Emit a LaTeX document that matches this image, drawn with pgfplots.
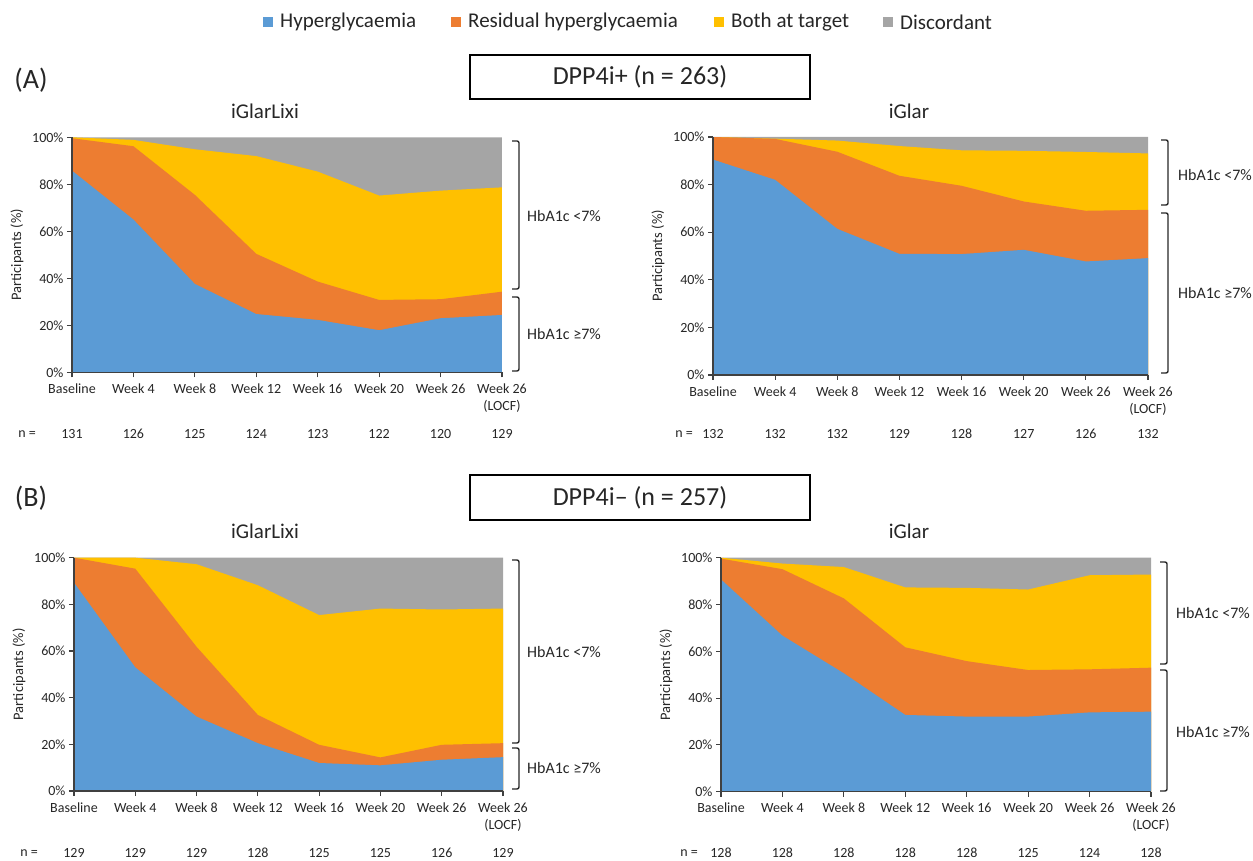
\documentclass[border=0pt]{standalone}
\usepackage{pgfplots}
\pgfplotsset{compat=1.18}
\usepackage{pgfplotstable}
\usepackage{fontspec}
\setmainfont{Carlito}
\definecolor{cblue}{HTML}{5B9BD5}
\definecolor{corange}{HTML}{ED7D31}
\definecolor{cyellow}{HTML}{FFC000}
\definecolor{cgrey}{HTML}{A5A5A5}
\definecolor{caxis}{HTML}{404040}
\definecolor{ctext}{HTML}{262626}

% cumulative tops of the stacked areas (%)
\pgfplotstableread{
x blue orng yell grey
0 85.8 99.6 100 100
1 65.0 96.2 98.9 100
2 37.6 75.5 94.9 100
3 24.8 50.4 92.0 100
4 22.3 38.6 85.4 100
5 17.9 30.8 75.2 100
6 23.0 31.1 77.3 100
7 24.4 34.3 78.7 100
}\tabAL
\pgfplotstableread{
x blue orng yell grey
0 90.5 100 100 100
1 82.0 99.2 99.3 100
2 61.4 93.8 98.5 100
3 50.9 83.7 96.2 100
4 50.8 79.5 94.4 100
5 52.6 72.9 94.2 100
6 47.7 69.0 93.7 100
7 49.1 69.4 93.1 100
}\tabAR
\pgfplotstableread{
x blue orng yell grey
0 89.3 100 100 100
1 53.0 95.3 100 100
2 31.9 61.8 97.2 100
3 20.5 32.6 88.2 100
4 12.0 19.8 75.4 100
5 11.0 14.4 78.2 100
6 13.4 19.8 77.8 100
7 14.5 20.5 78.2 100
}\tabBL
\pgfplotstableread{
x blue orng yell grey
0 90.7 99.6 100 100
1 66.7 95.1 97.5 100
2 50.6 82.6 96.0 100
3 32.8 61.7 87.3 100
4 32.1 55.8 87.1 100
5 32.1 52.0 86.4 100
6 33.9 52.3 92.5 100
7 34.2 53.0 92.8 100
}\tabBR

\newcommand\legfont{\fontsize{21}{25}\selectfont}
\newcommand\boxfont{\fontsize{26}{30}\selectfont}
\newcommand\abfont{\fontsize{28}{32}\selectfont}
\newcommand\titfont{\fontsize{21}{25}\selectfont}
\newcommand\labfont{\fontsize{14.5}{17}\selectfont}
\newcommand\brfont{\fontsize{16}{19}\selectfont}
\newcommand\tickfont{\fontsize{14}{17}\selectfont}

\pgfplotsset{
  panel/.style={
    scale only axis, xmin=0, xmax=7, ymin=0, ymax=100,
    axis x line*=bottom, axis y line*=left,
    axis line style={draw=caxis, line width=1.1pt, -},
    every tick/.style={draw=caxis, line width=1.1pt},
    major tick length=5pt, tick align=outside,
    xtick={0,...,7},
    xticklabels={Baseline, Week 4, Week 8, Week 12, Week 16, Week 20, Week 26, {Week 26\\(LOCF)}},
    ytick={0,20,40,60,80,100},
    yticklabels={0\%,20\%,40\%,60\%,80\%,100\%},
    ticklabel style={font=\tickfont, text=ctext},
    xticklabel style={align=center, yshift=-3pt},
    clip=false, axis on top,
    anchor=south west,
  },
}
\newcommand{\drawareas}[1]{%
  \addplot[draw=none, fill=cgrey] table[x=x,y=grey]{#1} \closedcycle;
  \addplot[draw=none, fill=cyellow] table[x=x,y=yell]{#1} \closedcycle;
  \addplot[draw=none, fill=corange] table[x=x,y=orng]{#1} \closedcycle;
  \addplot[draw=none, fill=cblue] table[x=x,y=blue]{#1} \closedcycle;
  \node[rotate=90, font=\labfont, text=ctext] at ([xshift=-55pt]rel axis cs:0,0.5) {Participants (\%)};
}
\newcommand{\nrow}[9]{%
  \node[font=\tickfont, text=ctext] at ([yshift=-#1]axis cs:0,0) {#2};
  \node[font=\tickfont, text=ctext] at ([yshift=-#1]axis cs:1,0) {#3};
  \node[font=\tickfont, text=ctext] at ([yshift=-#1]axis cs:2,0) {#4};
  \node[font=\tickfont, text=ctext] at ([yshift=-#1]axis cs:3,0) {#5};
  \node[font=\tickfont, text=ctext] at ([yshift=-#1]axis cs:4,0) {#6};
  \node[font=\tickfont, text=ctext] at ([yshift=-#1]axis cs:5,0) {#7};
  \node[font=\tickfont, text=ctext] at ([yshift=-#1]axis cs:6,0) {#8};
  \node[font=\tickfont, text=ctext] at ([yshift=-#1]axis cs:7,0) {#9};
}

\begin{document}
\begin{tikzpicture}
\useasboundingbox (0pt,0pt) rectangle (1253pt,860pt);

% legend
\foreach \c/\x/\t in {cblue/268/Hyperglycaemia, corange/456/Residual hyperglycaemia, cyellow/719/Both at target, cgrey/888/Discordant}{
  \fill[\c] (\x pt-5pt,833pt) rectangle (\x pt+5pt,843pt);
  \node[anchor=west, font=\legfont, inner sep=0pt, text=ctext] at (\x pt+12pt,838pt) {\t};
}

% panel headings
\node[font=\abfont, text=ctext] at (31pt,780pt) {(A)};
\draw[line width=1.3pt] (470pt,805pt) rectangle (810pt,761pt);
\node[font=\boxfont, text=ctext] at (640pt,783pt) {DPP4i+ (n = 263)};
\node[font=\titfont, text=ctext] at (265pt,749pt) {iGlarLixi};
\node[font=\titfont, text=ctext] at (909pt,749pt) {iGlar};

\node[font=\abfont, text=ctext] at (31pt,362pt) {(B)};
\draw[line width=1.3pt] (470pt,385pt) rectangle (810pt,340pt);
\node[font=\boxfont, text=ctext] at (640pt,362.5pt) {DPP4i– (n = 257)};
\node[font=\titfont, text=ctext] at (265pt,329pt) {iGlarLixi};
\node[font=\titfont, text=ctext] at (909pt,329pt) {iGlar};

% A left
\begin{axis}[panel, at={(72pt,487.7pt)}, width=430pt, height=235pt]
\drawareas{\tabAL}
\nrow{61.7pt}{131}{126}{125}{124}{123}{122}{120}{129}
\end{axis}
% A right
\begin{axis}[panel, at={(713pt,485pt)}, width=435pt, height=238pt]
\drawareas{\tabAR}
\nrow{59pt}{132}{132}{132}{129}{128}{127}{126}{132}
\end{axis}
% B left
\begin{axis}[panel, at={(74pt,69pt)}, width=429pt, height=233.3pt]
\drawareas{\tabBL}
\nrow{62pt}{129}{129}{129}{128}{125}{125}{126}{129}
\end{axis}
% B right
\begin{axis}[panel, at={(721pt,68.3pt)}, width=430pt, height=234pt]
\drawareas{\tabBR}
\nrow{61.3pt}{128}{128}{128}{128}{128}{125}{124}{128}
\end{axis}

% n = labels
\node[font=\tickfont, text=ctext] at (27pt,426pt) {n =};
\node[font=\tickfont, text=ctext] at (684pt,426pt) {n =};
\node[font=\tickfont, text=ctext] at (29pt,7pt) {n =};
\node[font=\tickfont, text=ctext] at (689pt,7pt) {n =};

% brackets
\tikzset{br/.style={line width=1.4pt, rounded corners=2pt, draw=black!85}}
\draw[br] (512pt,719pt) -- (519pt,719pt) -- (519pt,571pt) -- (512pt,571pt);
\draw[br] (512pt,563pt) -- (519pt,563pt) -- (519pt,489pt) -- (512pt,489pt);
\node[anchor=west, font=\brfont, inner sep=0pt, text=ctext] at (527pt,644pt) {HbA1c <7\%};
\node[anchor=west, font=\brfont, inner sep=0pt, text=ctext] at (527pt,526pt) {HbA1c ≥7\%};

\draw[br] (1161pt,720pt) -- (1168pt,720pt) -- (1168pt,655pt) -- (1161pt,655pt);
\draw[br] (1161pt,647pt) -- (1168pt,647pt) -- (1168pt,487pt) -- (1161pt,487pt);
\node[anchor=west, font=\brfont, inner sep=0pt, text=ctext] at (1178pt,685pt) {HbA1c <7\%};
\node[anchor=west, font=\brfont, inner sep=0pt, text=ctext] at (1178pt,567pt) {HbA1c ≥7\%};

\draw[br] (512pt,300pt) -- (519pt,300pt) -- (519pt,117pt) -- (512pt,117pt);
\draw[br] (512pt,112pt) -- (519pt,112pt) -- (519pt,71pt) -- (512pt,71pt);
\node[anchor=west, font=\brfont, inner sep=0pt, text=ctext] at (527pt,208pt) {HbA1c <7\%};
\node[anchor=west, font=\brfont, inner sep=0pt, text=ctext] at (527pt,92pt) {HbA1c ≥7\%};

\draw[br] (1160pt,298pt) -- (1167pt,298pt) -- (1167pt,196pt) -- (1160pt,196pt);
\draw[br] (1160pt,190pt) -- (1167pt,190pt) -- (1167pt,69pt) -- (1160pt,69pt);
\node[anchor=west, font=\brfont, inner sep=0pt, text=ctext] at (1176pt,247pt) {HbA1c <7\%};
\node[anchor=west, font=\brfont, inner sep=0pt, text=ctext] at (1176pt,128pt) {HbA1c ≥7\%};
\end{tikzpicture}
\end{document}
